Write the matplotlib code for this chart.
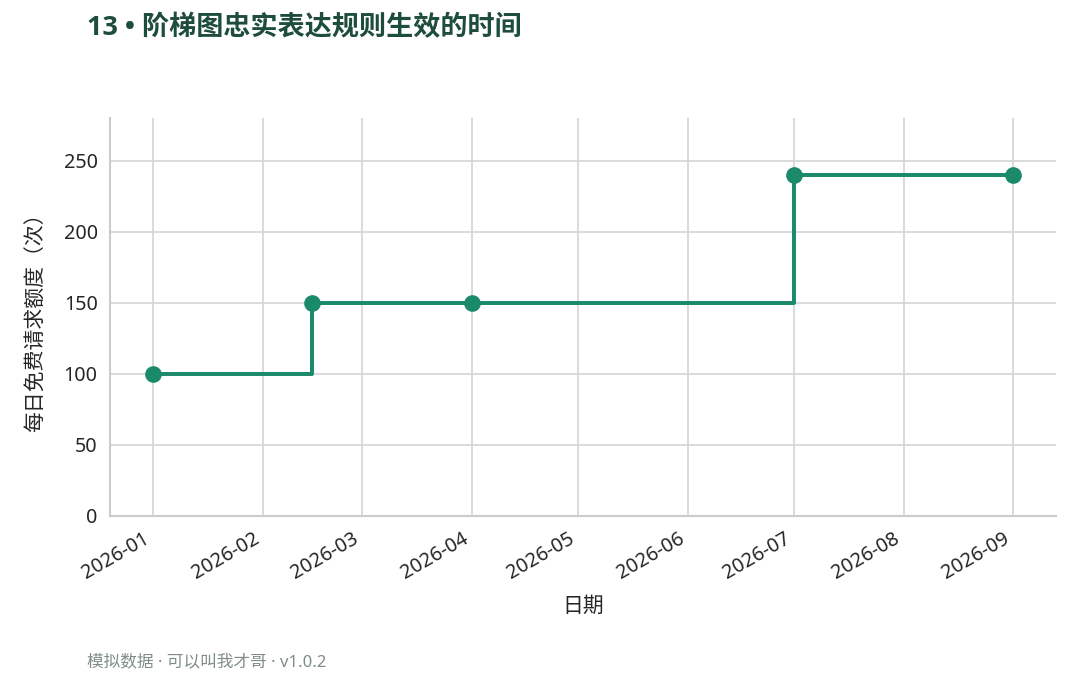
import matplotlib
matplotlib.use("Agg")
import matplotlib.pyplot as plt
import matplotlib.dates as mdates
import pandas as pd

plt.rcParams['font.family'] = ['Noto Sans', 'Noto Sans CJK SC', 'DejaVu Sans']

dates = ["2026-01-01", "2026-02-15", "2026-04-01", "2026-07-01", "2026-09-01"]
quota = [100, 150, 150, 240, 240]
title = "13 • 阶梯图忠实表达规则生效的时间"
xlabel = "日期"
ylabel = "每日免费请求额度（次）"
footer = "模拟数据 · 可以叫我才哥 · v1.0.2"

x = pd.to_datetime(dates)

fig = plt.figure(figsize=(7.2, 4.5), dpi=150)
ax = fig.add_axes([0.102, 0.2356, 0.876, 0.5894])

color = "#1b8a6b"
ax.step(x, quota, where="post", color=color, linewidth=1.9, zorder=3)
ax.plot(x, quota, "o", color=color, markersize=7, zorder=4)

ax.set_ylim(0, 280)
ax.set_yticks([0, 50, 100, 150, 200, 250])
ax.xaxis.set_major_locator(mdates.MonthLocator())
ax.xaxis.set_major_formatter(mdates.DateFormatter("%Y-%m"))

ax.grid(True, color="#d4d4d4", linewidth=0.8)
ax.set_axisbelow(True)
for s in ["top", "right"]:
    ax.spines[s].set_visible(False)
for s in ["left", "bottom"]:
    ax.spines[s].set_color("#cccccc")
    ax.spines[s].set_linewidth(1.0)
ax.tick_params(axis="both", length=0, labelsize=9.5, colors="#262626", pad=6)
for lab in ax.get_xticklabels():
    lab.set_rotation(30)
    lab.set_ha("right")

ax.set_xlabel(xlabel, fontsize=10, color="#262626", labelpad=6)
ax.set_ylabel(ylabel, fontsize=10, color="#262626", labelpad=8)

fig.text(0.081, 0.958, title, fontsize=13, fontweight="bold", color="#1e4d3b",
         ha="left", va="center", family=["Open Sans", "Noto Sans CJK SC", "DejaVu Sans"])
fig.text(0.081, 0.019, footer, fontsize=8, color="#7f8c8a", ha="left", va="center")

fig.savefig("out.png", dpi=150)
